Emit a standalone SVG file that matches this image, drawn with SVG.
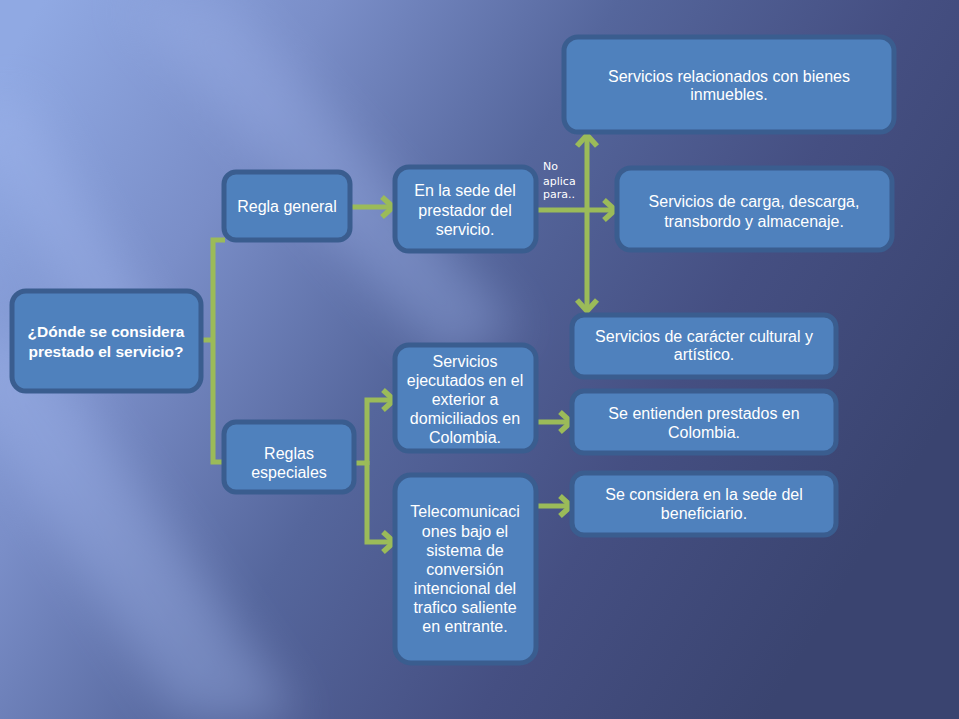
<svg xmlns="http://www.w3.org/2000/svg" width="959" height="719" viewBox="0 0 959 719">
<defs>
<linearGradient id="bg" x1="0" y1="0.1" x2="1" y2="0.55">
<stop offset="0" stop-color="#90a9e3"/>
<stop offset="0.25" stop-color="#7a8ec8"/>
<stop offset="0.5" stop-color="#55669c"/>
<stop offset="0.75" stop-color="#454f82"/>
<stop offset="1" stop-color="#3a4470"/>
</linearGradient>
<filter id="blur" x="-50%" y="-50%" width="200%" height="200%"><feGaussianBlur stdDeviation="24"/></filter>
<marker id="ah" markerUnits="userSpaceOnUse" markerWidth="22" markerHeight="26" viewBox="0 0 22 26" refX="15" refY="13" orient="auto-start-reverse">
<path d="M4,3 L15,13 L4,23" fill="none" stroke="#9bbb59" stroke-width="5.5"/>
</marker>
<style>
.box{fill:#4f81bd;stroke:#3a5d8f;stroke-width:5}
.t{font-family:"Liberation Sans",Arial,sans-serif;font-size:16px;fill:#ffffff;text-anchor:middle}
.tb{font-weight:bold;font-size:15.5px}
.na{font-family:"DejaVu Sans","Liberation Sans",sans-serif;font-size:11px;fill:#ffffff}
.c{fill:none;stroke:#9bbb59;stroke-width:5}
</style>
</defs>
<rect width="959" height="719" fill="url(#bg)"/>
<g opacity="0.4" filter="url(#blur)">
<polygon points="-60,360 30,330 300,719 180,719" fill="#a3b8ee"/>
<polygon points="120,0 230,0 520,330 440,360" fill="#9cb1e8"/>
<polygon points="-40,120 20,90 160,330 100,350" fill="#a3b8ee"/>
</g>

<g id="connectors">
<line class="c" x1="201" y1="340" x2="213" y2="340"/>
<path class="c" d="M225,240 H213 V462 H225"/>
<line class="c" x1="350" y1="207" x2="393" y2="207" marker-end="url(#ah)"/>
<line class="c" x1="537" y1="210" x2="615" y2="210" marker-end="url(#ah)"/>
<line class="c" x1="587" y1="135" x2="587" y2="311" marker-start="url(#ah)" marker-end="url(#ah)"/>
<line class="c" x1="354" y1="463" x2="367" y2="463"/>
<path class="c" d="M367,465 V400 H394" marker-end="url(#ah)"/>
<path class="c" d="M367,461 V542 H394" marker-end="url(#ah)"/>
<line class="c" x1="533" y1="422" x2="571" y2="422" marker-end="url(#ah)"/>
<line class="c" x1="536" y1="506" x2="571" y2="506" marker-end="url(#ah)"/>
<text class="na" x="543" y="170">No</text>
<text class="na" x="543" y="185">aplica</text>
<text class="na" x="543" y="198">para..</text>
</g>

<g id="n-donde">
<rect class="box" x="12" y="291" width="189" height="100" rx="14"/>
<text class="t tb" x="106" y="337">¿Dónde se considera</text>
<text class="t tb" x="106" y="357">prestado el servicio?</text>
</g>
<g id="n-regla-general">
<rect class="box" x="224" y="172" width="126" height="68" rx="12"/>
<text class="t" x="287" y="212">Regla general</text>
</g>
<g id="n-sede-prestador">
<rect class="box" x="395" y="167" width="141" height="84" rx="14"/>
<text class="t" x="465" y="196">En la sede del</text>
<text class="t" x="465" y="216">prestador del</text>
<text class="t" x="465" y="235">servicio.</text>
</g>
<g id="n-inmuebles">
<rect class="box" x="564" y="37" width="330" height="95" rx="14"/>
<text class="t" x="729" y="82">Servicios relacionados con bienes</text>
<text class="t" x="729" y="100">inmuebles.</text>
</g>
<g id="n-carga">
<rect class="box" x="617" y="168" width="275" height="82" rx="14"/>
<text class="t" x="754" y="207">Servicios de carga, descarga,</text>
<text class="t" x="754" y="227">transbordo y almacenaje.</text>
</g>
<g id="n-cultural">
<rect class="box" x="572" y="315" width="264" height="62" rx="12"/>
<text class="t" x="704" y="342">Servicios de carácter cultural y</text>
<text class="t" x="704" y="360">artístico.</text>
</g>
<g id="n-entienden">
<rect class="box" x="572" y="391" width="264" height="62" rx="12"/>
<text class="t" x="704" y="419">Se entienden prestados en</text>
<text class="t" x="704" y="438">Colombia.</text>
</g>
<g id="n-beneficiario">
<rect class="box" x="572" y="473" width="264" height="62" rx="12"/>
<text class="t" x="704" y="500">Se considera en la sede del</text>
<text class="t" x="704" y="519">beneficiario.</text>
</g>
<g id="n-ejecutados">
<rect class="box" x="395" y="345" width="141" height="106" rx="14"/>
<text class="t" x="465" y="367">Servicios</text>
<text class="t" x="465" y="386">ejecutados en el</text>
<text class="t" x="465" y="405">exterior a</text>
<text class="t" x="465" y="424">domiciliados en</text>
<text class="t" x="465" y="443">Colombia.</text>
</g>
<g id="n-reglas-especiales">
<rect class="box" x="224" y="422" width="130" height="70" rx="12"/>
<text class="t" x="289" y="459">Reglas</text>
<text class="t" x="289" y="478">especiales</text>
</g>
<g id="n-telecom">
<rect class="box" x="395" y="475" width="141" height="188" rx="16"/>
<text class="t" x="465" y="517">Telecomunicaci</text>
<text class="t" x="465" y="537">ones bajo el</text>
<text class="t" x="465" y="556">sistema de</text>
<text class="t" x="465" y="575">conversión</text>
<text class="t" x="465" y="594">intencional del</text>
<text class="t" x="465" y="613">trafico saliente</text>
<text class="t" x="465" y="632">en entrante.</text>
</g>
</svg>
